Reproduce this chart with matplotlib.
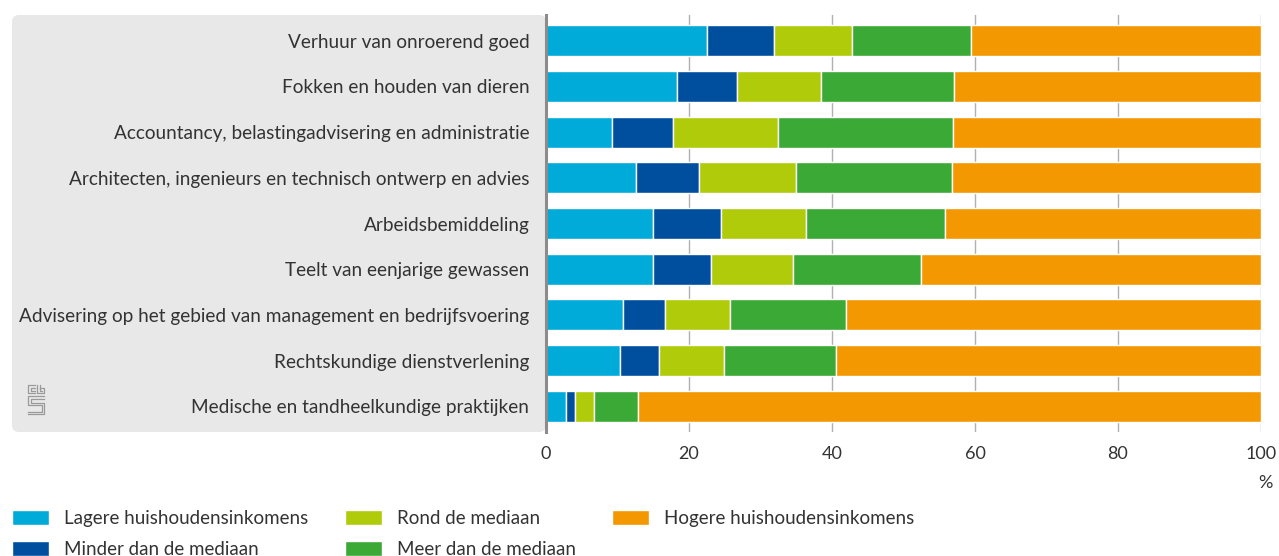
import matplotlib
matplotlib.use("Agg")
import matplotlib.pyplot as plt
import matplotlib.transforms as mtransforms
from matplotlib.patches import FancyBboxPatch
from matplotlib.lines import Line2D

# branches (top to bottom)
categories = [
    "Verhuur van onroerend goed",
    "Fokken en houden van dieren",
    "Accountancy, belastingadvisering en administratie",
    "Architecten, ingenieurs en technisch ontwerp en advies",
    "Arbeidsbemiddeling",
    "Teelt van eenjarige gewassen",
    "Advisering op het gebied van management en bedrijfsvoering",
    "Rechtskundige dienstverlening",
    "Medische en tandheelkundige praktijken",
]

series_names = [
    "Lagere huishoudensinkomens",
    "Minder dan de mediaan",
    "Rond de mediaan",
    "Meer dan de mediaan",
    "Hogere huishoudensinkomens",
]

# shares in %
lagere = [22.5, 18.3, 9.3, 12.6, 15.0, 15.0, 10.8, 10.4, 2.8]
minder = [9.4, 8.4, 8.4, 8.8, 9.5, 8.1, 5.8, 5.4, 1.2]
rond = [10.9, 11.8, 14.7, 13.6, 11.8, 11.5, 9.1, 9.1, 2.7]
meer = [16.6, 18.6, 24.5, 21.8, 19.5, 17.9, 16.3, 15.7, 6.1]
hogere = [40.6, 42.9, 43.1, 43.2, 44.2, 47.5, 58.0, 59.4, 87.2]

colors = ["#00abd9", "#004f9f", "#afcb0a", "#3ba935", "#f39800"]

x_ticks = [0, 20, 40, 60, 80, 100]

plt.rcParams["font.family"] = ["Lato", "DejaVu Sans"]
text_color = "#333333"

W, H = 1279, 556
fig = plt.figure(figsize=(W / 100, H / 100), dpi=100)

# grey panel behind the category labels (pixel coordinates)
pix = mtransforms.IdentityTransform()
panel = FancyBboxPatch((12, H - 432), 534, 417,
                       boxstyle="round,pad=0,rounding_size=7",
                       transform=pix, facecolor="#e8e8e8", edgecolor="none", zorder=-2)
fig.patches.append(panel)

ax = fig.add_axes([546 / W, 1 - 432 / H, (1261 - 546) / W, (432 - 15) / H])
ax.patch.set_alpha(0)

ypos = list(range(len(categories)))
left = [0.0] * len(categories)
for name, vals, col in zip(series_names, [lagere, minder, rond, meer, hogere], colors):
    ax.barh(ypos, vals, left=left, height=0.68, color=col,
            edgecolor="white", linewidth=1.0, label=name, zorder=3)
    left = [l + v for l, v in zip(left, vals)]

ax.set_ylim(len(categories) - 1 + 0.56, -0.56)
ax.set_xlim(0, 100)
ax.set_yticks(ypos)
ax.set_yticklabels(categories, fontsize=13.7, color=text_color)
ax.set_xticks(x_ticks)
ax.set_xticklabels([str(t) for t in x_ticks], fontsize=13, color=text_color)
ax.tick_params(axis="y", length=0, pad=12)
ax.tick_params(axis="x", length=0, pad=10)
ax.xaxis.grid(True, color="#b0b0b0", linewidth=1.0, zorder=1)
ax.set_axisbelow(True)
for s in ["top", "right", "bottom"]:
    ax.spines[s].set_visible(False)
ax.spines["left"].set_color("#8c8c8c")
ax.spines["left"].set_linewidth(2.2)
ax.spines["left"].set_zorder(4)

fig.text(1265 / W, 1 - 483 / H, "%", fontsize=13, color=text_color,
         ha="center", va="center")

# small cbs logo in the panel (pixel coordinates, y measured from the top)
logo = [
    [(35, 385), (28, 385), (28, 393), (35, 393)],
    [(35, 387.5), (30.5, 387.5), (30.5, 390.5), (35, 390.5)],
    [(37, 385), (37, 393), (44, 393), (44, 388), (39.5, 388)],
    [(39.5, 385), (39.5, 390.5), (41.5, 390.5)],
    [(44, 396), (28, 396), (28, 405), (41.5, 405), (41.5, 411.5), (28, 411.5)],
    [(44, 398.5), (30.5, 398.5), (30.5, 402.5), (44, 402.5), (44, 414), (28, 414)],
]
for pts in logo:
    xs = [p[0] for p in pts]
    ys = [H - p[1] for p in pts]
    fig.lines.append(Line2D(xs, ys, transform=pix, color="#9a9a9a", linewidth=0.9))

fig.legend(loc="upper left", bbox_to_anchor=(12 / W, 1 - 510 / H), ncol=3,
           frameon=False, fontsize=13.5, borderpad=0, borderaxespad=0,
           handlelength=1.97, handleheight=0.85, handletextpad=0.8,
           columnspacing=1.95, labelspacing=0.75, labelcolor=text_color)

fig.savefig("out.png", dpi=100)
